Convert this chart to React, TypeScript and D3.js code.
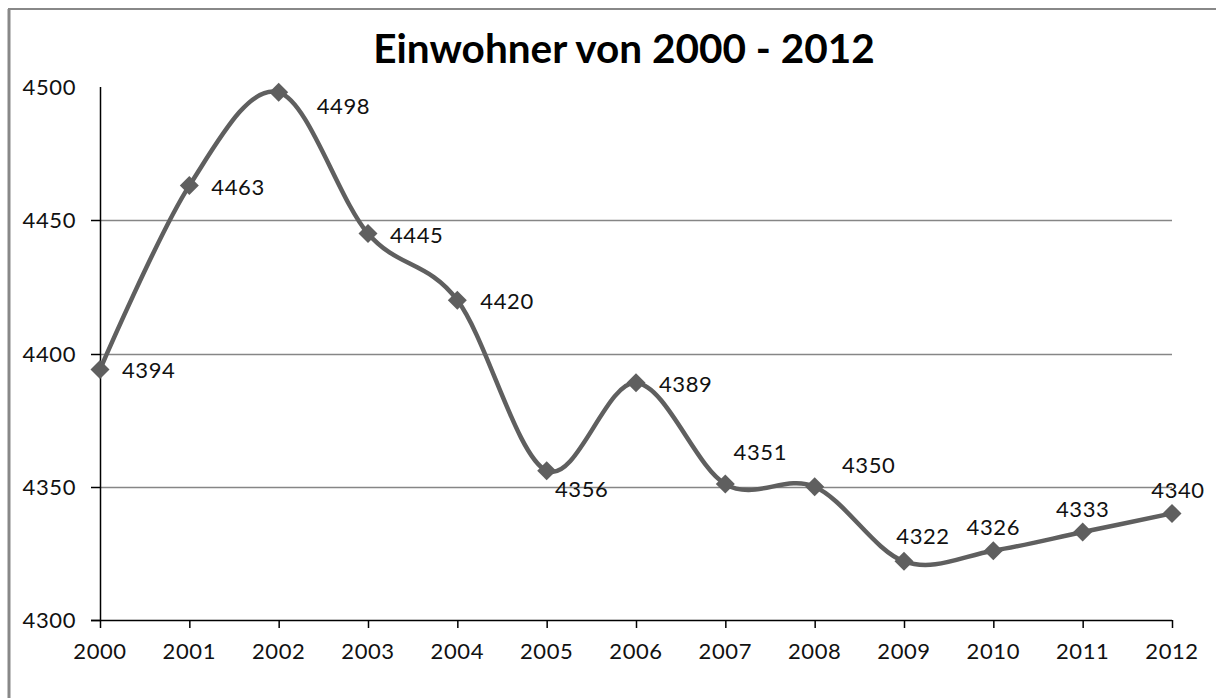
import React from "react";
import * as d3 from "d3";

const years = ["2000","2001","2002","2003","2004","2005","2006","2007","2008","2009","2010","2011","2012"];
const einwohner = [4394, 4463, 4498, 4445, 4420, 4356, 4389, 4351, 4350, 4322, 4326, 4333, 4340];
const yTicks = [4300, 4350, 4400, 4450, 4500];
const title = "Einwohner von 2000 - 2012";

// label placement per point (style only)
const labelPos: [number, number, string][] = [
  [22, 9, "start"], [22, 9, "start"], [38, 22, "start"], [22, 9, "start"], [23, 9, "start"],
  [35, 26, "middle"], [23, 9, "start"], [35, -24, "middle"], [54, -14, "middle"],
  [19, -17, "middle"], [0, -16, "middle"], [0, -15, "middle"], [6, -15, "middle"],
];

export default function App() {
  const W = 1216, H = 698;
  const x = d3.scalePoint<string>().domain(years).range([100, 1172]);
  const y = d3.scaleLinear().domain([4300, 4500]).range([620, 87]);
  const line = d3.line<number>()
    .x((_, i) => x(years[i])!)
    .y((d) => y(d))
    .curve(d3.curveCatmullRom.alpha(0));
  const font = "Lato, 'Open Sans', sans-serif";
  const diamond = d3.symbol().type(d3.symbolDiamond2).size(230)()!;
  const ls = "0.6px";
  return (
    <svg width={W} height={H} style={{ position: "fixed", left: 0, top: 0, background: "#fff" }}>
      <rect x={0} y={0} width={W} height={H} fill="#fff" />
      <line x1={8} y1={9} x2={W} y2={9} stroke="#888" strokeWidth={2} />
      <line x1={9} y1={9} x2={9} y2={H} stroke="#888" strokeWidth={3} />
      <text x={624} y={63} textAnchor="middle" fontFamily={font} fontWeight="bold" fontSize={40.5} fill="#000">{title}</text>
      {yTicks.filter((t) => t > 4300 && t < 4500).map((t) => (
        <line key={"g" + t} x1={100} x2={1172} y1={Math.round(y(t)) + 0.5} y2={Math.round(y(t)) + 0.5} stroke="#868686" strokeWidth={1.5} />
      ))}
      {yTicks.filter((t) => t < 4500).map((t) => (
        <line key={"yt" + t} x1={91} x2={100} y1={Math.round(y(t)) + 0.5} y2={Math.round(y(t)) + 0.5} stroke="#000" strokeWidth={1.5} />
      ))}
      {yTicks.map((t) => (
        <text key={"yl" + t} x={76} y={y(t) + 8} textAnchor="end" fontFamily={font} fontSize={22} letterSpacing={ls} fill="#111">{t}</text>
      ))}
      <line x1={100.5} x2={100.5} y1={87} y2={620} stroke="#000" strokeWidth={1.5} />
      <line x1={91} x2={1172} y1={620.5} y2={620.5} stroke="#000" strokeWidth={1.5} />
      {years.map((yr) => (
        <g key={"xt" + yr}>
          <line x1={x(yr)! + 0.5} x2={x(yr)! + 0.5} y1={620} y2={628} stroke="#000" strokeWidth={1.5} />
          <text x={x(yr)!} y={659} textAnchor="middle" fontFamily={font} fontSize={22} letterSpacing={ls} fill="#111">{yr}</text>
        </g>
      ))}
      <path d={line(einwohner)!} fill="none" stroke="#5f5f5f" strokeWidth={4.5} />
      {einwohner.map((v, i) => (
        <path key={"m" + i} d={diamond} transform={`translate(${x(years[i])},${y(v)})`} fill="#5f5f5f" />
      ))}
      {einwohner.map((v, i) => (
        <text key={"dl" + i} x={x(years[i])! + labelPos[i][0]} y={y(v) + labelPos[i][1]} textAnchor={labelPos[i][2]}
          fontFamily={font} fontSize={22} letterSpacing={ls} fill="#111">{v}</text>
      ))}
    </svg>
  );
}
